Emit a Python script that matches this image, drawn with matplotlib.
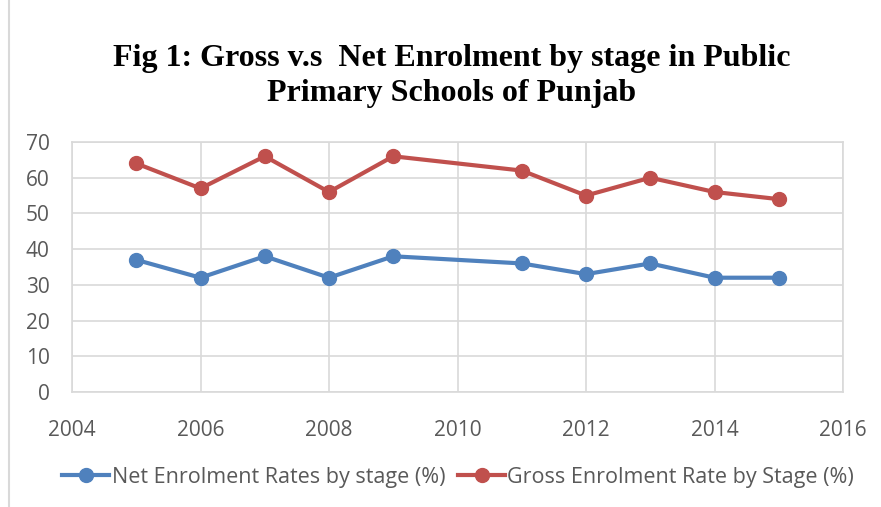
import matplotlib
matplotlib.use("Agg")
import matplotlib.pyplot as plt
from matplotlib.lines import Line2D

years = [2005, 2006, 2007, 2008, 2009, 2011, 2012, 2013, 2014, 2015]
net_rate = [37, 32, 38, 32, 38, 36, 33, 36, 32, 32]
gross_rate = [64, 57, 66, 56, 66, 62, 55, 60, 56, 54]

net_label = "Net Enrolment Rates by stage (%)"
gross_label = "Gross Enrolment Rate by Stage (%)"
title = "Fig 1: Gross v.s  Net Enrolment by stage in Public\nPrimary Schools of Punjab"

blue = "#4f81bd"
red = "#c0504d"
tick_col = "#595959"
grid_col = "#d9d9d9"
sans = ["Open Sans", "DejaVu Sans"]

fig = plt.figure(figsize=(8.81, 5.07), dpi=100)
ax = fig.add_axes([72 / 881, 1 - 392 / 507, (843 - 72) / 881, (392 - 142) / 507])

ax.plot(years, net_rate, color=blue, lw=3, marker="o", ms=10, label=net_label)
ax.plot(years, gross_rate, color=red, lw=3, marker="o", ms=10, label=gross_label)

ax.set_xlim(2004, 2016)
ax.set_ylim(0, 70)
ax.set_xticks(range(2004, 2017, 2))
ax.set_yticks(range(0, 71, 10))
ax.grid(True, color=grid_col, lw=1.2)
ax.set_axisbelow(True)
for s in ax.spines.values():
    s.set_color(grid_col)
    s.set_linewidth(1.2)
ax.tick_params(length=0, labelsize=15, colors=tick_col)
ax.tick_params(axis="x", pad=20)
ax.tick_params(axis="y", pad=16)
for lab in ax.get_xticklabels() + ax.get_yticklabels():
    lab.set_family(sans)

fig.text(0.513, 0.85, title, ha="center", va="center", fontsize=23,
         fontweight="bold", family="Liberation Serif", linespacing=1.3)

handles = [Line2D([], [], color=blue, lw=3, marker="o", ms=10),
           Line2D([], [], color=red, lw=3, marker="o", ms=10)]
fig.legend(handles, [net_label, gross_label], loc="center", ncol=2,
           bbox_to_anchor=(0.52, 1 - 477 / 507), frameon=False,
           prop={"family": sans, "size": 15.5}, labelcolor=tick_col,
           handlelength=2.2, handletextpad=0.1, columnspacing=0.6)

# thin frame line at the left edge of the figure
fig.add_artist(Line2D([9 / 881, 9 / 881], [0, 1], color=grid_col, lw=1.5,
                      transform=fig.transFigure))

fig.savefig("out.png", dpi=100)
